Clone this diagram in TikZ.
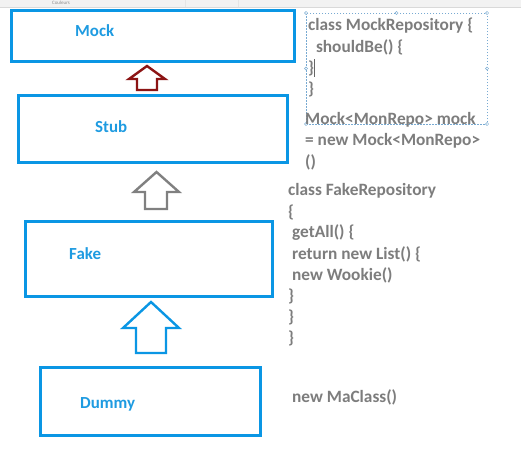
\documentclass[tikz,border=0pt]{standalone}
\usepackage{fontspec}
\setmainfont{Carlito}
\begin{document}
\begin{tikzpicture}[x=1pt,y=-1pt,
  level/.style={draw=boxblue,line width=3pt,inner sep=0pt},
  lbl/.style={anchor=west,text=lblblue,font=\bfseries\fontsize{16.9}{19}\selectfont,inner sep=0pt},
  code/.style={anchor=west,text=codegray,font=\bfseries\fontsize{17.3}{20}\selectfont,inner sep=0pt},
  handle/.style={draw=selblue,fill=white,line width=0.5pt},
  blockarrow/.style={line width=2.4pt,line join=miter,fill=white}]
\definecolor{boxblue}{RGB}{10,150,228}
\definecolor{lblblue}{RGB}{30,155,225}
\definecolor{codegray}{RGB}{125,125,125}
\definecolor{selblue}{RGB}{120,170,210}
\definecolor{darkred}{RGB}{140,20,20}
\definecolor{arrgray}{RGB}{128,128,128}
\useasboundingbox (0,0) rectangle (521,461);
\fill[white] (0,0) rectangle (521,461);
% toolbar strip
\fill[black!5] (0,0) rectangle (521,7);
\draw[black!15,line width=0.6pt] (0,7) -- (521,7);
\draw[black!10,line width=0.5pt] (185,0) -- (185,7) (238,0) -- (238,7);
\node[text=black!45,font=\fontsize{5}{6}\selectfont,inner sep=0pt] (tb) at (61,3.2) {Couleurs};
% boxes
\node[level,minimum width=283pt,minimum height=51pt] (mock) at (152.5,35.5) {};
\node[level,minimum width=269pt,minimum height=67pt] (stub) at (152.5,128.5) {};
\node[level,minimum width=247pt,minimum height=75pt] (fake) at (148.5,258.5) {};
\node[level,minimum width=220pt,minimum height=68pt] (dummy) at (150,401) {};
\node[lbl] (lmock) at (75,31) {Mock};
\node[lbl] (lstub) at (95,127) {Stub};
\node[lbl] (lfake) at (69,254) {Fake};
\node[lbl] (ldummy) at (80,404) {Dummy};
% block arrows
\draw[blockarrow,draw=darkred] (147,66) -- (165,79) -- (157,79) -- (157,90) -- (137,90) -- (137,79) -- (129,79) -- cycle;
\draw[blockarrow,draw=arrgray] (156.5,172) -- (179,192) -- (167,192) -- (167,209) -- (145,209) -- (145,192) -- (134,192) -- cycle;
\draw[blockarrow,draw=boxblue] (151,302) -- (179,328) -- (166,328) -- (166,353) -- (136,353) -- (136,328) -- (123,328) -- cycle;
% selection frame
\draw[selblue,line width=0.6pt,dash pattern=on 1.5pt off 1.5pt] (306,13) rectangle (487,124);
\foreach \p in {(306,13),(396.5,13),(487,13),(306,68.5),(487,68.5),(306,124),(487,124)}
  \draw[handle] \p circle (1.6pt);
% code text
\node[code] (c1) at (308,26) {class MockRepository \{};
\node[code] (c2) at (308,47) {\ \ shouldBe() \{};
\node[code] (c3) at (308,68) {\}};
\draw[black!60,line width=0.6pt] (314,59) -- (314,77);
\node[code] (c4) at (308,89) {\}};
\node[code] (c5) at (305,120) {Mock<MonRepo> mock};
\node[code] (c6) at (305,141) {= new Mock<MonRepo>};
\node[code] (c7) at (305,162) {()};
\node[code] (f1) at (288,191) {class FakeRepository};
\node[code] (f2) at (288,212) {\{};
\node[code] (f3) at (292,233) {getAll() \{};
\node[code] (f4) at (292,254) {return new List() \{};
\node[code] (f5) at (292,275) {new Wookie()};
\node[code] (f6) at (288,296) {\}};
\node[code] (f7) at (288,317) {\}};
\node[code] (f8) at (288,338) {\}};
\node[code] (d1) at (292,397) {new MaClass()};
\end{tikzpicture}
\end{document}
